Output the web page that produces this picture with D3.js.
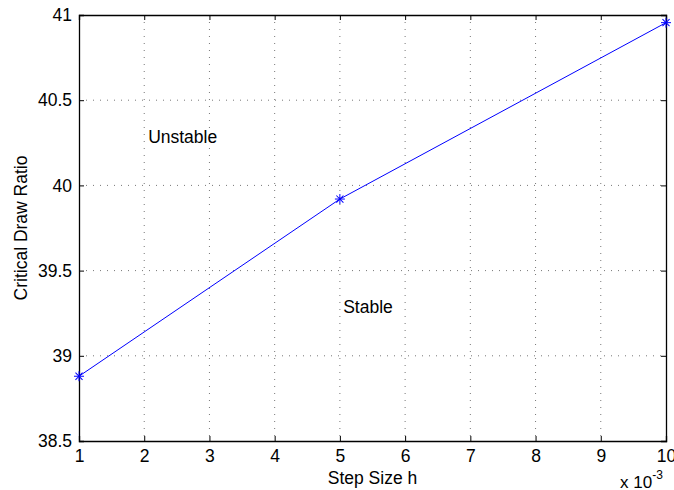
<!DOCTYPE html>
<html lang="en">
<head>
<meta charset="utf-8">
<title>Critical Draw Ratio vs Step Size</title>
<script src="https://d3js.org/d3.v7.min.js"></script>
<style>
  body { margin: 0; background: #fff; }
  text { font-family: "Liberation Sans", Arial, sans-serif; }
</style>
</head>
<body>
<script>
// data
var stepSize = [1, 5, 10];               // x 10^-3
var drawRatio = [38.88, 39.92, 40.955];
var xTicks = [1, 2, 3, 4, 5, 6, 7, 8, 9, 10];
var yTicks = [38.5, 39, 39.5, 40, 40.5, 41];

var width = 674, height = 490;
var margin = {left: 79, right: 8, top: 15, bottom: 49};
var innerW = width - margin.left - margin.right;
var innerH = height - margin.top - margin.bottom;
var fs = 17.5;

var svg = d3.select("body").append("svg")
  .attr("width", width)
  .attr("height", height);

var g = svg.append("g")
  .attr("transform", "translate(" + margin.left + "," + margin.top + ")");

var x = d3.scaleLinear().domain([1, 10]).range([0, innerW]);
var y = d3.scaleLinear().domain([38.5, 41]).range([innerH, 0]);

// grid
g.selectAll(".gx").data(xTicks.slice(1, -1)).enter().append("line")
  .attr("x1", d => x(d)).attr("x2", d => x(d))
  .attr("y1", 0).attr("y2", innerH)
  .attr("stroke", "#777").attr("stroke-width", 1)
  .attr("stroke-dasharray", "1,6");
g.selectAll(".gy").data(yTicks.slice(1, -1)).enter().append("line")
  .attr("y1", d => y(d)).attr("y2", d => y(d))
  .attr("x1", 0).attr("x2", innerW)
  .attr("stroke", "#777").attr("stroke-width", 1)
  .attr("stroke-dasharray", "1,6");

// axes (inner ticks, box)
var tickLen = 5;
var xAxis = d3.axisBottom(x).tickValues(xTicks).tickSize(-tickLen).tickPadding(8).tickFormat(d3.format("d"));
var yAxis = d3.axisLeft(y).tickValues(yTicks).tickSize(-tickLen).tickPadding(7).tickFormat(d => d);

var ax = g.append("g").attr("transform", "translate(0," + innerH + ")").call(xAxis);
var ay = g.append("g").call(yAxis);
var axTop = g.append("g").call(d3.axisTop(x).tickValues(xTicks).tickSize(-tickLen).tickFormat(""));
var ayRight = g.append("g").attr("transform", "translate(" + innerW + ",0)")
  .call(d3.axisRight(y).tickValues(yTicks).tickSize(-tickLen).tickFormat(""));

[ax, ay, axTop, ayRight].forEach(function (a) {
  a.select(".domain").attr("stroke", "#000").attr("stroke-width", 1.3);
  a.selectAll(".tick line").attr("stroke", "#000");
  a.selectAll(".tick text").attr("font-size", fs).attr("fill", "#000")
    .style("font-family", "Liberation Sans, Arial, sans-serif");
});
ax.selectAll(".tick text").attr("dy", "0.75em");

// line
var line = d3.line().x((d, i) => x(stepSize[i])).y(d => y(d));
g.append("path").datum(drawRatio)
  .attr("d", line)
  .attr("fill", "none")
  .attr("stroke", "#0000ff")
  .attr("stroke-width", 1);

// star markers
g.selectAll(".pt").data(drawRatio).enter().append("g")
  .attr("transform", (d, i) => "translate(" + x(stepSize[i]) + "," + y(d) + ")")
  .each(function () {
    var s = d3.select(this);
    [0, 45, 90, 135].forEach(function (a) {
      s.append("line")
        .attr("x1", -5).attr("x2", 5).attr("y1", 0).attr("y2", 0)
        .attr("transform", "rotate(" + a + ")")
        .attr("stroke", "#0000ff").attr("stroke-width", 1);
    });
  });

// labels
g.append("text").attr("x", x(2.06)).attr("y", y(40.25)).attr("font-size", fs).text("Unstable");
g.append("text").attr("x", x(5.05)).attr("y", y(39.25)).attr("font-size", fs).text("Stable");

svg.append("text")
  .attr("x", margin.left + innerW / 2).attr("y", 484)
  .attr("text-anchor", "middle").attr("font-size", fs)
  .text("Step Size h");

svg.append("text")
  .attr("transform", "translate(27," + (margin.top + innerH / 2) + ") rotate(-90)")
  .attr("text-anchor", "middle").attr("font-size", fs)
  .text("Critical Draw Ratio");

var mult = svg.append("text").attr("x", 620).attr("y", 488).attr("font-size", 17);
mult.append("tspan").text("x 10");
mult.append("tspan").attr("dy", -9).attr("font-size", 12).text("-3");
</script>
</body>
</html>
